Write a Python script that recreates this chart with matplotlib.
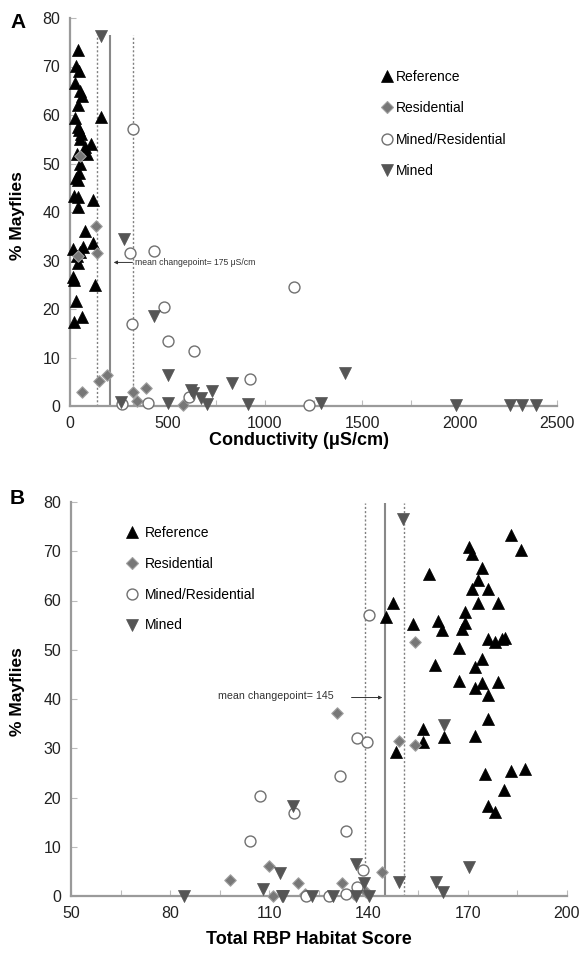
import matplotlib
matplotlib.use("Agg")
import matplotlib.pyplot as plt
from matplotlib.lines import Line2D
from matplotlib.ticker import MultipleLocator, FixedLocator

plt.rcParams['font.family'] = ['Liberation Sans', 'DejaVu Sans']

# ---------------- Panel A data: conductivity (uS/cm) vs % mayflies ----------------
a_ref_x = [41, 31, 46, 26, 51, 62, 41, 26, 159, 41, 56, 51, 108, 87, 36, 51, 46, 41,
           21, 41, 41, 118, 77, 118, 15, 67, 41, 21, 128, 31, 62, 21, 51, 15, 36, 77, 46, 31]
a_ref_y = [73.3, 70.2, 69.0, 66.7, 65.0, 64.0, 62.0, 59.3, 59.5, 57.5, 56.0, 55.0, 54.0, 52.0,
           52.0, 50.0, 48.0, 46.5, 43.4, 43.0, 41.0, 42.4, 36.0, 33.7, 32.4, 32.7, 29.4, 26.0,
           25.0, 21.6, 18.3, 17.3, 31.7, 26.5, 31.0, 53.5, 57.0, 47.0]
a_res_x = [51, 133, 41, 139, 62, 149, 190, 323, 344, 390, 580]
a_res_y = [51.6, 37.2, 30.9, 31.5, 2.9, 5.2, 6.3, 2.9, 1.0, 3.7, 0.2]
a_mr_x = [323, 308, 431, 318, 483, 503, 637, 924, 1150, 611, 267, 400, 1227]
a_mr_y = [57.2, 31.5, 32.0, 17.0, 20.4, 13.4, 11.3, 5.5, 24.5, 1.8, 0.4, 0.6, 0.2]
a_min_x = [159, 277, 431, 503, 262, 503, 621, 631, 672, 703, 729, 832, 914, 1288, 1412,
           1981, 2259, 2320, 2392]
a_min_y = [76.2, 34.4, 18.5, 6.4, 0.8, 0.6, 3.2, 2.6, 1.6, 0.4, 3.0, 4.7, 0.4, 0.6, 6.8,
           0.3, 0.3, 0.3, 0.3]
a_change_mean = 205
a_change_lo = 140
a_change_hi = 325
a_line_top = 76.5
a_label = "mean changepoint= 175 \u03bcS/cm"
a_xticks = [0, 500, 1000, 1500, 2000, 2500]

# ---------------- Panel B data: total RBP habitat score vs % mayflies ----------------
b_ref_x = [183.0, 186.1, 170.3, 171.2, 174.2, 173.0, 158.2, 171.2, 176.1, 173.0, 179.1,
           147.3, 145.2, 169.1, 169.1, 153.3, 160.9, 162.1, 168.2, 176.1, 178.2, 180.3,
           181.2, 167.3, 174.2, 172.1, 160.0, 167.3, 172.1, 174.2, 179.1, 176.1, 176.1,
           156.4, 156.4, 162.7, 172.1, 148.2, 175.2, 183.0, 187.3, 180.9, 176.1, 178.2]
b_ref_y = [73.4, 70.2, 70.8, 69.4, 66.7, 64.1, 65.3, 62.3, 62.3, 59.4, 59.4,
           59.4, 56.6, 57.6, 55.4, 55.2, 55.8, 54.0, 54.2, 52.1, 51.5, 52.1,
           52.3, 50.3, 48.1, 46.5, 46.9, 43.6, 42.2, 43.2, 43.4, 40.8, 35.9,
           33.9, 31.2, 32.3, 32.5, 29.2, 24.7, 25.4, 25.8, 21.5, 18.3, 17.0]
b_res_x = [98.2, 110.0, 111.2, 118.8, 130.3, 149.1, 153.9, 144.2, 132.1, 120.9, 135.5,
           139.1, 153.9]
b_res_y = [3.2, 6.1, 0.0, 2.6, 37.1, 31.5, 30.6, 4.9, 2.6, 0.4, 0.4, 0.8, 51.5]
b_mr_x = [107.3, 104.2, 117.3, 136.4, 139.4, 131.2, 133.3, 138.2, 136.4, 133.3, 127.9,
          121.2, 140.0]
b_mr_y = [20.3, 11.2, 16.8, 32.0, 31.2, 24.3, 13.2, 5.3, 1.8, 0.4, 0.0, 0.0, 57.0]
b_min_x = [150.3, 162.7, 117.0, 170.3, 136.1, 138.5, 149.1, 160.3, 162.4, 113.3, 113.9,
           123.0, 129.1, 136.1, 140.0, 84.2, 108.2, 114.2]
b_min_y = [76.5, 34.7, 18.3, 5.9, 6.5, 2.6, 2.8, 2.8, 0.8, 4.7, 0.0,
           0.0, 0.0, 0.0, 0.0, 0.0, 1.4, 0.0]
b_change_mean = 145
b_change_lo = 138.8
b_change_hi = 150.6
b_line_top = 79.7
b_label = "mean changepoint= 145"
b_xticks = [50, 80, 110, 140, 170, 200]
b_xminor = [65, 95, 125, 155, 185]

legend_labels = ["Reference", "Residential", "Mined/Residential", "Mined"]

# ---------------- styles ----------------
SPINE = "#9a9a9a"
styles = {
    "Reference": dict(marker="^", s=75, facecolor="black", edgecolor="black", linewidths=0.5),
    "Residential": dict(marker="D", s=34, facecolor="#777777", edgecolor="#a0a0a0", linewidths=0.8),
    "Mined/Residential": dict(marker="o", s=62, facecolor="white", edgecolor="#707070", linewidths=1.0),
    "Mined": dict(marker="v", s=75, facecolor="#555555", edgecolor="#555555", linewidths=0.5),
}

fig = plt.figure(figsize=(5.8, 9.57), dpi=100)
axA = fig.add_axes([70 / 580, 1 - 406 / 957, 487 / 580, 388 / 957])
axB = fig.add_axes([71 / 580, 1 - 896 / 957, 496 / 580, 394 / 957])


def style_axes(ax):
    for side in ("top", "right"):
        ax.spines[side].set_visible(False)
    for side in ("left", "bottom"):
        ax.spines[side].set_color(SPINE)
        ax.spines[side].set_linewidth(1.6)
    ax.tick_params(which="both", direction="in", color="#bbbbbb", length=4, width=0.8,
                   labelsize=11.5, labelcolor="#222222", pad=7)
    ax.set_ylim(0, 80)
    ax.yaxis.set_major_locator(MultipleLocator(10))


def draw_series(ax, data):
    for name, (xs, ys) in zip(legend_labels, data):
        ax.scatter(xs, ys, clip_on=False, zorder=4, **styles[name])


def make_handles():
    hs = []
    for name in legend_labels:
        st = styles[name]
        hs.append(Line2D([], [], linestyle="none", marker=st["marker"],
                         markersize=(st["s"] ** 0.5), markerfacecolor=st["facecolor"],
                         markeredgecolor=st["edgecolor"], markeredgewidth=st["linewidths"]))
    return hs


# ---------- Panel A ----------
style_axes(axA)
axA.set_xlim(0, 2500)
axA.xaxis.set_major_locator(FixedLocator(a_xticks))
axA.xaxis.set_minor_locator(MultipleLocator(250))
axA.vlines([a_change_lo, a_change_hi], 0, a_line_top, colors="#808080", linestyles=(0, (1.5, 1.5)),
           linewidth=1.0, zorder=2)
axA.vlines([a_change_mean], 0, a_line_top, colors="#888888", linewidth=1.5, zorder=2)
draw_series(axA, [(a_ref_x, a_ref_y), (a_res_x, a_res_y), (a_mr_x, a_mr_y), (a_min_x, a_min_y)])
axA.annotate("", xy=(a_change_mean + 5, 29.6), xytext=(a_change_hi + 10, 29.6),
             arrowprops=dict(arrowstyle="-|>", color="#333333", lw=0.7, mutation_scale=5))
axA.text(a_change_hi + 10, 29.6, a_label, fontsize=6.2, color="#333333", va="center", ha="left")
axA.set_xlabel("Conductivity (\u03bcS/cm)", fontsize=13, fontweight="bold")
axA.xaxis.set_label_coords(0.47, -0.066)
axA.set_ylabel("% Mayflies", fontsize=12.5, fontweight="bold")
axA.yaxis.set_label_coords(-0.092, 0.49)
axA.legend(make_handles(), legend_labels, loc="upper left", bbox_to_anchor=(0.630, 0.866),
           frameon=False, fontsize=10, labelspacing=1.25, handletextpad=0.0,
           handlelength=1.4, borderpad=0, borderaxespad=0)
fig.text(10 / 580, 1 - 22 / 957, "A", fontsize=15, fontweight="bold", va="center", ha="left")

# ---------- Panel B ----------
style_axes(axB)
axB.set_xlim(50, 200)
axB.xaxis.set_major_locator(FixedLocator(b_xticks))
axB.xaxis.set_minor_locator(FixedLocator(b_xminor))
axB.vlines([b_change_lo, b_change_hi], 0, b_line_top, colors="#808080", linestyles=(0, (1.5, 1.5)),
           linewidth=1.0, zorder=2)
axB.vlines([b_change_mean], 0, b_line_top, colors="#888888", linewidth=1.5, zorder=2)
draw_series(axB, [(b_ref_x, b_ref_y), (b_res_x, b_res_y), (b_mr_x, b_mr_y), (b_min_x, b_min_y)])
axB.annotate("", xy=(b_change_mean, 40.3), xytext=(b_change_mean - 11, 40.3),
             arrowprops=dict(arrowstyle="-|>", color="#333333", lw=0.7, mutation_scale=5))
axB.text(b_change_mean - 15.5, 40.6, b_label, fontsize=7.7, color="#333333", va="center", ha="right")
axB.set_xlabel("Total RBP Habitat Score", fontsize=13, fontweight="bold")
axB.xaxis.set_label_coords(0.48, -0.09)
axB.set_ylabel("% Mayflies", fontsize=12.5, fontweight="bold")
axB.yaxis.set_label_coords(-0.092, 0.52)
axB.legend(make_handles(), legend_labels, loc="upper left", bbox_to_anchor=(0.103, 0.94),
           frameon=False, fontsize=10, labelspacing=1.22, handletextpad=0.25,
           handlelength=1.4, borderpad=0, borderaxespad=0)
fig.text(10 / 580, 1 - 498 / 957, "B", fontsize=15, fontweight="bold", va="center", ha="left")

fig.savefig("out.png", dpi=100)
